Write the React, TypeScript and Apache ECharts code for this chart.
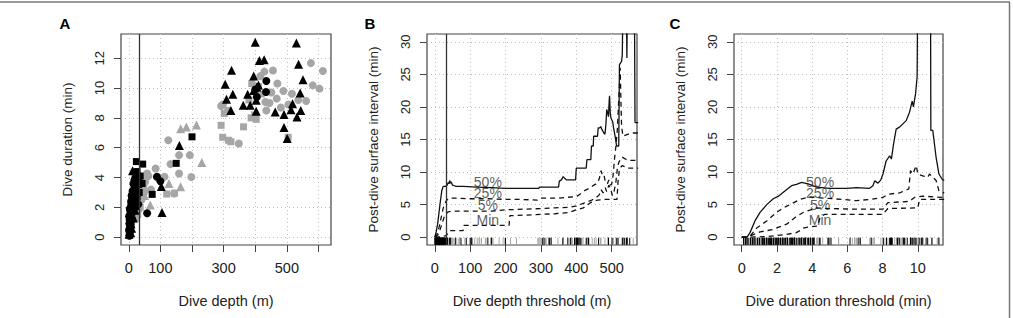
import React, { useEffect, useRef } from "react";
import * as echarts from "echarts";

// ---------- Panel A: dive depth (m) vs dive duration (min) ----------
const blackTri: number[][] = [
  [400, 13.07], [530, 13.02], [413, 11.85], [428, 11.9], [537, 11.6], [325, 11.2], [395, 10.8], [551, 10.56],
  [305, 10.25], [309, 9.25], [329, 9.58], [323, 8.5], [362, 8.84], [384, 8.84], [376, 9.58], [395, 9.84],
  [405, 10.07], [403, 9.18], [410, 10.2], [403, 8.45], [463, 8.4], [491, 8.22], [513, 8.55], [532, 8.06],
  [544, 8.5], [542, 9.67], [518, 8.95], [491, 7.35], [501, 6.61], [160, 6.15], [105, 1.65], [103, 3.4], [12, 4.45],
  [1, 0.2], [3, 0.4], [2, 0.7], [5, 1.1], [7, 0.9], [4, 1.4], [9, 1.5], [6, 1.7], [11, 2.0], [8, 2.1], [13, 2.3],
  [10, 2.5], [15, 2.6], [17, 2.8], [12, 2.9], [19, 3.0], [14, 3.3], [21, 3.3], [23, 3.6], [16, 3.8], [26, 3.9],
  [18, 4.1], [27, 2.4], [20, 1.8], [22, 2.1], [6, 0.3], [9, 0.6], [25, 3.0], [29, 3.6], [3, 1.2], [14, 1.3],
];
const blackCircle: number[][] = [
  [435, 10.47], [434, 9.73], [405, 9.4], [400, 9.9], [89, 4.05], [100, 3.75], [58, 1.6],
  [2, 0.1], [3, 0.3], [1, 0.5], [4, 0.6], [5, 0.8], [2, 0.9], [6, 1.0], [3, 1.2], [7, 1.3], [4, 1.5], [8, 1.6],
  [5, 1.8], [10, 1.9], [6, 2.0], [12, 2.2], [8, 2.4], [14, 2.5], [10, 2.7], [16, 2.9], [12, 3.1], [18, 3.2],
  [20, 3.5], [22, 3.0], [25, 2.6], [15, 3.6], [9, 2.8], [3, 1.9], [1, 1.4], [11, 1.2], [13, 1.7], [24, 3.4],
  [28, 3.8], [30, 2.2],
];
const blackSquare: number[][] = [
  [24, 5.07], [44, 4.9], [200, 6.73], [150, 4.95], [74, 2.87], [36, 4.1], [33, 3.0], [42, 3.6],
  [2, 0.2], [4, 0.5], [6, 0.7], [3, 1.0], [8, 1.2], [5, 1.6], [10, 1.7], [7, 2.3], [12, 2.6], [14, 2.0],
  [17, 3.4], [20, 3.9], [26, 4.4], [30, 4.0], [22, 2.8],
];
const greyCircle: number[][] = [
  [58, 4.27], [85, 4.6], [125, 6.5], [159, 5.5], [159, 4.27], [193, 5.5], [198, 4.04], [143, 2.93], [113, 4.05],
  [132, 4.9], [70, 3.2], [48, 3.0], [40, 2.5], [30, 1.8], [22, 1.2], [36, 3.6], [52, 3.7], [62, 4.1],
  [576, 11.67], [614, 11.14], [456, 11.18], [429, 11.1], [416, 10.8], [489, 9.8], [516, 9.62], [536, 9.2],
  [561, 9.13], [582, 10.18], [603, 9.96], [468, 9.29], [451, 9.7], [481, 8.69], [432, 9.06], [435, 8.5],
  [292, 8.8], [298, 8.9], [348, 6.28], [445, 9.0], [505, 8.9], [470, 10.3],
];
const greySquare: number[][] = [
  [120, 2.89], [145, 2.95], [47, 3.3], [36, 2.0], [28, 1.5], [42, 2.8],
  [292, 7.5], [297, 6.7], [315, 6.5], [323, 6.4], [363, 7.4], [387, 8.0], [403, 7.9], [398, 8.2],
  [389, 10.3], [302, 8.3], [313, 8.5], [504, 6.7], [419, 9.6], [410, 10.1], [380, 9.2],
];
const greyTri: number[][] = [
  [33, 4.28], [38, 3.7], [50, 2.8], [68, 2.16], [127, 3.6], [164, 3.38], [164, 7.27], [182, 7.38],
  [214, 7.53], [231, 5.0], [28, 3.0], [44, 4.0],
];

// ---------- Panel B: post-dive surface interval vs dive depth threshold ----------
const depth50: number[][] = [
  [0, 0], [4, 0.8], [8, 2.0], [12, 3.8], [16, 5.6], [20, 7.2], [24, 7.8], [30, 7.8], [34, 7.9], [38, 8.4], [40, 8.2],
  [42, 8.7], [44, 8.3], [46, 8.5], [50, 8.0], [55, 7.9], [60, 7.8], [80, 7.8], [120, 7.7], [160, 7.6], [200, 7.5],
  [250, 7.5], [294, 7.5], [296, 7.7], [350, 7.7], [352, 8.6], [358, 8.8], [363, 9.3], [368, 9.0], [372, 8.8],
  [398, 8.8], [400, 10.6], [428, 10.6], [430, 11.9], [441, 11.9], [443, 14.0], [448, 14.0], [449, 15.5],
  [460, 15.5], [462, 16.8], [467, 16.8], [469, 17.0], [472, 16.6], [478, 16.0], [481, 15.8], [484, 17.5],
  [486, 19.6], [489, 19.0], [491, 18.5], [493, 21.0], [494, 21.7], [496, 19.0], [498, 18.3], [503, 17.7],
  [505, 16.9], [510, 15.4], [514, 14.0], [520, 14.0], [522, 26.5], [528, 27.0], [530, 28.0], [533, 40],
  [541, 40], [543, 27.5], [545, 40], [564, 40], [566, 17.6], [575, 17.6],
];
const depth25: number[][] = [
  [0, 0], [6, 0.4], [12, 1.5], [18, 3.0], [24, 4.5], [30, 5.3], [34, 5.7], [40, 6.0], [60, 6.0], [100, 5.9],
  [150, 5.9], [200, 5.8], [240, 5.8], [290, 5.7], [300, 6.0], [350, 6.0], [390, 6.2], [400, 6.2], [410, 6.6],
  [425, 7.2], [440, 7.6], [450, 8.0], [460, 8.3], [465, 9.0], [470, 10.2], [474, 9.5], [478, 9.6], [482, 8.5],
  [488, 8.2], [492, 8.8], [496, 8.0], [500, 8.1], [504, 9.5], [508, 12.0], [512, 14.0], [516, 16.5],
  [520, 21.0], [524, 26.0], [528, 17.0], [532, 15.5], [545, 15.8], [560, 16.0], [575, 16.0],
];
const depth5: number[][] = [
  [0, 0], [8, 0.3], [14, 1.0], [20, 2.0], [26, 3.0], [32, 3.6], [38, 3.9], [50, 4.0], [100, 4.0], [160, 4.0],
  [200, 4.2], [250, 4.3], [300, 4.4], [340, 4.5], [380, 4.6], [400, 4.8], [420, 5.2], [440, 5.6], [455, 6.0],
  [465, 6.5], [470, 7.3], [476, 6.8], [482, 7.6], [486, 7.0], [492, 8.0], [498, 7.2], [502, 6.4], [506, 6.8],
  [512, 8.5], [516, 10.5], [520, 11.5], [530, 12.3], [545, 11.8], [575, 11.8],
];
const depthMin: number[][] = [
  [0, 0], [10, 0.05], [20, 0.1], [30, 0.2], [36, 0.5], [40, 0.9], [44, 1.0], [80, 1.0], [82, 1.8], [150, 1.8],
  [210, 1.8], [212, 3.3], [260, 3.4], [300, 3.5], [340, 3.6], [380, 3.8], [400, 4.2], [420, 4.5], [440, 5.3],
  [460, 5.7], [480, 5.8], [500, 5.8], [515, 5.8], [518, 8.5], [522, 10.5], [530, 11.0], [545, 10.6], [575, 10.6],
];

// ---------- Panel C: post-dive surface interval vs dive duration threshold ----------
const dur50: number[][] = [
  [0, 0], [0.3, 0], [0.47, 0.7], [0.75, 2.5], [1.04, 3.8], [1.42, 5.0], [1.79, 5.9], [2.08, 6.3], [2.45, 7.1],
  [2.83, 7.9], [3.11, 8.1], [3.4, 8.4], [3.77, 8.2], [4.25, 7.7], [5.0, 7.5], [6.0, 7.5], [6.5, 7.6], [7.26, 7.5],
  [7.45, 7.9], [7.55, 8.65], [7.74, 8.3], [7.9, 8.8], [8.02, 9.7], [8.2, 11.7], [8.4, 12.5], [8.5, 12.0],
  [8.62, 14.3], [8.77, 16.6], [8.96, 16.9], [9.15, 17.4], [9.34, 17.9], [9.53, 19.2], [9.68, 20.9], [9.75, 20.0],
  [9.87, 22.0], [9.96, 24.6], [10.0, 40], [10.72, 40], [10.74, 16.4], [10.85, 16.4], [11.04, 12.2], [11.2, 9.7],
  [11.38, 8.9], [11.5, 8.7],
];
const dur25: number[][] = [
  [0, 0], [0.3, 0], [0.47, 0.15], [0.85, 1.4], [1.42, 2.5], [1.98, 3.8], [2.36, 4.5], [2.74, 5.0], [3.3, 5.8],
  [3.87, 6.2], [4.62, 6.0], [5.75, 5.8], [6.5, 5.6], [7.26, 5.8], [8.02, 6.1], [8.3, 6.6], [8.96, 6.8],
  [9.49, 7.4], [9.58, 10.2], [9.72, 9.7], [9.91, 11.0], [10.0, 9.7], [10.28, 9.4], [10.57, 9.2], [10.66, 9.7],
  [11.04, 8.7], [11.2, 7.1], [11.5, 6.8],
];
const dur5: number[][] = [
  [0, 0], [0.3, 0], [1.04, 0.8], [1.79, 1.2], [2.55, 2.0], [3.11, 3.2], [3.49, 3.8], [4.25, 4.5], [5.0, 4.4],
  [6.5, 4.3], [8.02, 4.3], [8.3, 5.3], [9.53, 5.5], [9.81, 6.1], [10.28, 6.3], [11.5, 6.1],
];
const durMin: number[][] = [
  [0, 0], [0.3, 0], [1.5, 0.1], [2.5, 0.4], [3.1, 0.7], [3.3, 1.0], [3.5, 1.4], [3.9, 1.6], [4.3, 1.7],
  [4.45, 3.0], [4.7, 3.5], [8.0, 3.5], [8.3, 4.4], [10.0, 4.5], [10.1, 5.8], [11.5, 5.8],
];

// ---------- ticks, labels ----------
const depthTicksA = [0, 100, 200, 300, 400, 500, 600];
const depthLabelsA = [0, 100, 300, 500];
const durTicksA = [0, 2, 4, 6, 8, 10, 12];
const depthTicksB = [0, 100, 200, 300, 400, 500];
const durTicksC = [0, 2, 4, 6, 8, 10];
const psiTicks = [0, 5, 10, 15, 20, 25, 30];
const thresholdDepth = 32;
const curveNames = ["50%", "25%", "5%", "Min"];
const curveLabelY = [8.5, 6.8, 4.9, 2.7];
const curveLabelXB = 150;
const curveLabelXC = 4.45;

const FONT = "'Liberation Sans', Arial, Helvetica, sans-serif";
const GREY = "#a6a6a6";
const INK = "#222";

function xAxisCfg(gridIndex: number, min: number, max: number, ticks: number[], labels: number[], name: string) {
  return {
    type: "value", gridIndex, min, max, name, nameLocation: "middle", nameGap: 48,
    nameTextStyle: { fontFamily: FONT, fontSize: 14.5, color: INK },
    axisLine: { show: false, onZero: false },
    axisTick: { show: true, inside: false, length: 7, customValues: ticks, lineStyle: { color: "#444", width: 1 } },
    axisLabel: { customValues: labels, margin: 15, fontFamily: FONT, fontSize: 14.5, color: INK },
    splitLine: { show: true, lineStyle: { color: "#bdbdbd", type: [1, 3], width: 1 } },
  };
}
function yAxisCfg(gridIndex: number, min: number, max: number, ticks: number[], name: string) {
  return {
    type: "value", gridIndex, min, max, name, nameLocation: "middle", nameGap: 47, nameRotate: 90,
    nameTextStyle: { fontFamily: FONT, fontSize: 13.5, color: INK },
    axisLine: { show: false, onZero: false },
    axisTick: { show: true, inside: false, length: 7, customValues: ticks, lineStyle: { color: "#444", width: 1 } },
    axisLabel: { customValues: ticks, rotate: 90, margin: 15, fontFamily: FONT, fontSize: 13, color: INK },
    splitLine: { show: true, lineStyle: { color: "#bdbdbd", type: [1, 3], width: 1 } },
  };
}

function scatter(data: number[][], symbol: string, size: number, color: string) {
  return {
    type: "scatter", xAxisIndex: 0, yAxisIndex: 0, data, symbol, symbolSize: size,
    itemStyle: { color, opacity: 1 }, silent: true,
  };
}

function curve(idx: number, data: number[][], dashed: boolean) {
  return {
    type: "line", xAxisIndex: idx, yAxisIndex: idx, data, showSymbol: false, symbol: "none",
    clip: true, silent: true,
    lineStyle: { color: "#111", width: 1.3, type: dashed ? [5, 4] : "solid" },
  };
}

function rug(idx: number, values: number[], color: string, yMin: number) {
  return {
    type: "scatter", xAxisIndex: idx, yAxisIndex: idx, silent: true, clip: true,
    data: values.map((v) => [v, yMin]),
    symbol: "rect", symbolSize: [1, 7], symbolOffset: [0, -3.5],
    itemStyle: { color, opacity: 1 },
  };
}

function curveLabels(idx: number, x: number) {
  return {
    type: "scatter", xAxisIndex: idx, yAxisIndex: idx, silent: true, symbolSize: 0,
    data: curveNames.map((n, i) => ({ name: n, value: [x, curveLabelY[i]] })),
    label: { show: true, position: "inside", formatter: "{b}", fontFamily: FONT, fontSize: 14, color: "#333" },
  };
}

const allBlack = [...blackTri, ...blackCircle, ...blackSquare];
const allGrey = [...greyTri, ...greyCircle, ...greySquare];
const PSI_MIN = -1.2;
const PSI_MAX = 31.2;
const RUG_Y = -1.18;

const vline = {
  silent: true, symbol: ["none", "none"], label: { show: false },
  lineStyle: { color: "#333", type: "solid", width: 1.3 },
  data: [{ xAxis: thresholdDepth }],
};

const option: any = {
  animation: false,
  backgroundColor: "#fff",
  grid: [
    { left: 121, top: 34, width: 210, height: 211, show: true, borderColor: "#444", borderWidth: 1.2, backgroundColor: "transparent" },
    { left: 427, top: 34, width: 210, height: 211, show: true, borderColor: "#444", borderWidth: 1.2, backgroundColor: "transparent" },
    { left: 734, top: 34, width: 209, height: 211, show: true, borderColor: "#444", borderWidth: 1.2, backgroundColor: "transparent" },
  ],
  xAxis: [
    xAxisCfg(0, -24.6, 639.6, depthTicksA, depthLabelsA, "Dive depth (m)"),
    xAxisCfg(1, -22, 571.6, depthTicksB, depthTicksB, "Dive depth threshold (m)"),
    xAxisCfg(2, -0.44, 11.43, durTicksC, durTicksC, "Dive duration threshold (min)"),
  ],
  yAxis: [
    yAxisCfg(0, -0.524, 13.624, durTicksA, "Dive duration (min)"),
    yAxisCfg(1, PSI_MIN, PSI_MAX, psiTicks, "Post-dive surface interval (min)"),
    yAxisCfg(2, PSI_MIN, PSI_MAX, psiTicks, "Post-dive surface interval (min)"),
  ],
  series: [
    { ...scatter(greyCircle, "circle", 8, GREY), markLine: vline },
    scatter(greySquare, "rect", 7, GREY),
    scatter(greyTri, "triangle", 9, GREY),
    scatter(blackCircle, "circle", 8, "#000"),
    scatter(blackSquare, "rect", 7, "#000"),
    scatter(blackTri, "triangle", 9, "#000"),

    rug(1, allGrey.map((p) => p[0]), GREY, RUG_Y),
    rug(1, allBlack.map((p) => p[0]), "#000", RUG_Y),
    { ...curve(1, depth50, false), markLine: vline },
    curve(1, depth25, true),
    curve(1, depth5, true),
    curve(1, depthMin, true),
    curveLabels(1, curveLabelXB),

    rug(2, allGrey.map((p) => p[1]), GREY, RUG_Y),
    rug(2, allBlack.map((p) => p[1]), "#000", RUG_Y),
    curve(2, dur50, false),
    curve(2, dur25, true),
    curve(2, dur5, true),
    curve(2, durMin, true),
    curveLabels(2, curveLabelXC),
  ],
  graphic: [
    { type: "line", shape: { x1: 0, y1: 2, x2: 1010, y2: 2 }, style: { stroke: "#777", lineWidth: 1.5 } },
    { type: "line", shape: { x1: 1009.5, y1: 2, x2: 1009.5, y2: 318 }, style: { stroke: "#777", lineWidth: 1.5 } },
    { type: "text", x: 65, y: 23, style: { text: "A", fill: "#000", fontFamily: FONT, fontSize: 15, fontWeight: "bold", align: "center", verticalAlign: "middle" } },
    { type: "text", x: 370, y: 23, style: { text: "B", fill: "#000", fontFamily: FONT, fontSize: 15, fontWeight: "bold", align: "center", verticalAlign: "middle" } },
    { type: "text", x: 675, y: 23, style: { text: "C", fill: "#000", fontFamily: FONT, fontSize: 15, fontWeight: "bold", align: "center", verticalAlign: "middle" } },
  ],
};

export default function App() {
  const ref = useRef<HTMLDivElement>(null);
  useEffect(() => {
    if (!ref.current) return;
    const chart = echarts.init(ref.current, undefined, { renderer: "svg" });
    chart.setOption(option);
    return () => chart.dispose();
  }, []);
  return (
    <div
      ref={ref}
      style={{ position: "absolute", left: 0, top: 0, width: 1013, height: 318, background: "#fff" }}
    />
  );
}
